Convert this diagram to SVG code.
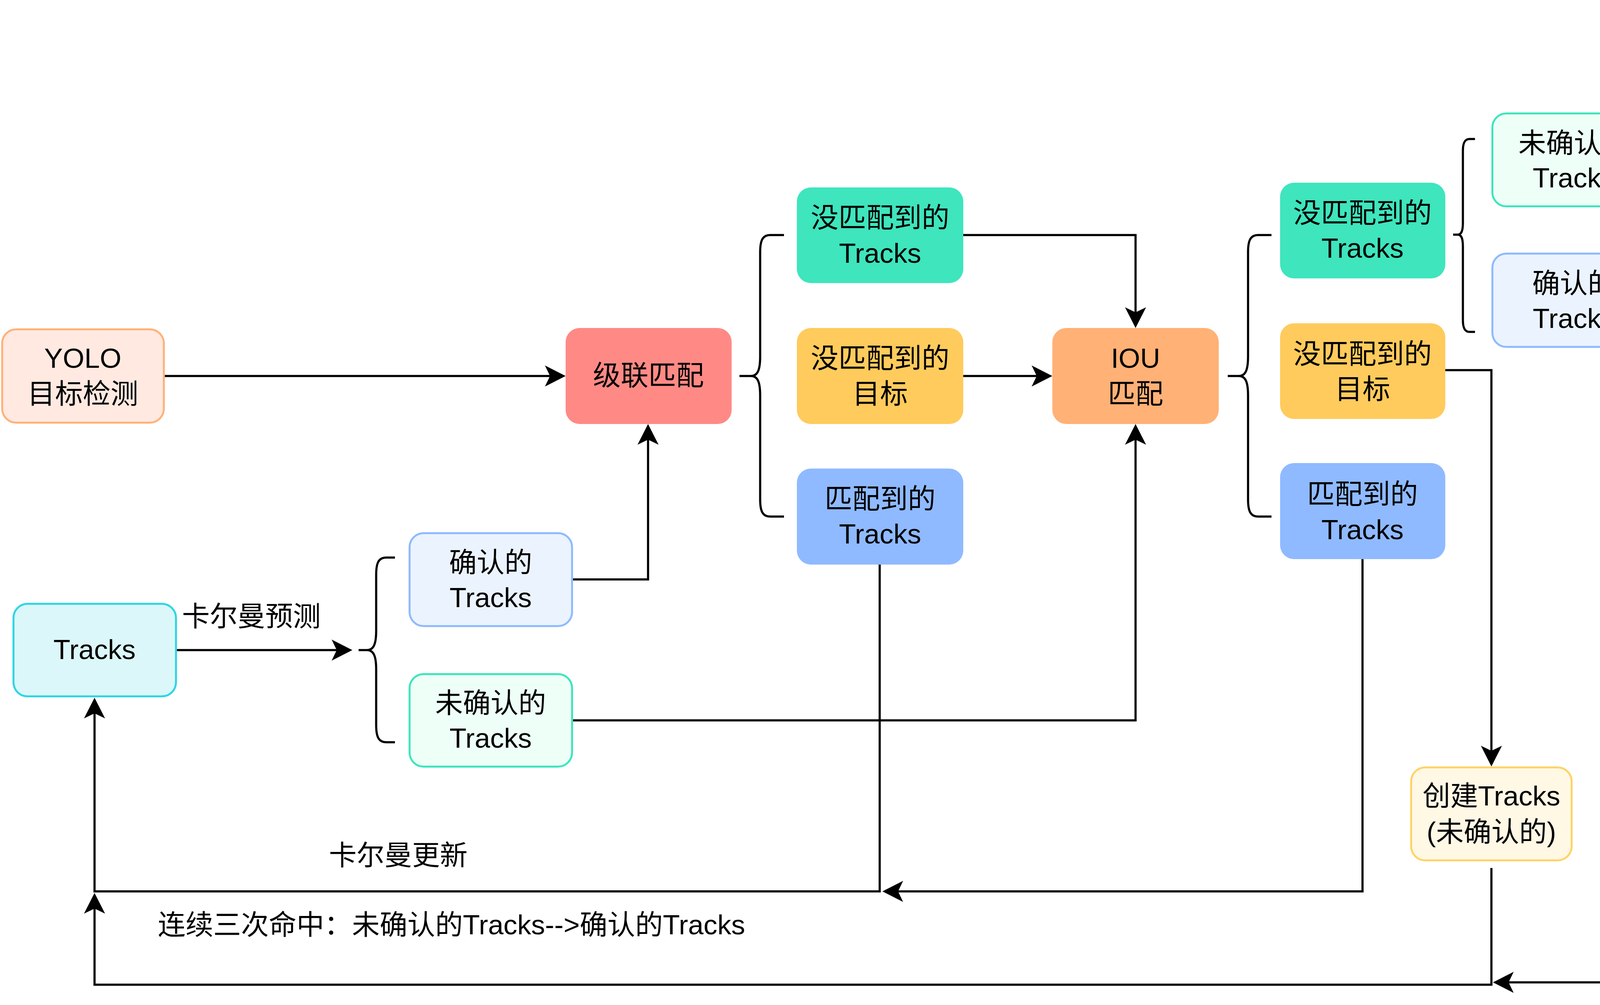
<svg xmlns="http://www.w3.org/2000/svg" width="4842" height="2574" viewBox="0 0 4842 2574">
<style>
text{font-family:"Liberation Sans","Noto Sans CJK SC",sans-serif;font-size:71px;fill:#000;dominant-baseline:central}
.c{text-anchor:middle}
.s{text-anchor:start}
.ln{fill:none;stroke:#000;stroke-width:5.5}
.arr{marker-end:url(#ah)}
.br{fill:none;stroke:#000;stroke-width:5.5;stroke-linejoin:round}
.wm{font-size:90px;fill:#dadada;stroke:#bfbfbf;stroke-width:1.5}
</style>
<defs>
<marker id="ah" markerUnits="userSpaceOnUse" viewBox="0 0 53 54" refX="13" refY="27" markerWidth="53" markerHeight="54" orient="auto">
<path d="M0,0 L53,27 L0,54 L13,27 Z" fill="#000"/>
</marker>
<linearGradient id="gdel" x1="0" y1="0" x2="0" y2="1">
<stop offset="0" stop-color="#dde6ed"/>
<stop offset="1" stop-color="#d3dce4"/>
</linearGradient>
</defs>
<rect width="4842" height="2574" fill="#fff"/>

<g id="connectors">
<path class="ln arr" d="M422,963 L1408,963"/>
<path class="ln arr" d="M1467,1484 L1659,1484 L1659,1126"/>
<path class="ln arr" d="M2466,602 L2907,602 L2907,800"/>
<path class="ln arr" d="M2466,963 L2654,963"/>
<path class="ln arr" d="M1467,1845 L2907,1845 L2907,1126"/>
<path class="ln arr" d="M453,1665 L862,1665"/>
<path class="ln" d="M4239,409 L4577,409"/>
<path class="ln arr" d="M4577,483 L4577,286"/>
<path class="ln arr" d="M3700,948 L3818,948 L3818,1923"/>
<path class="ln arr" d="M3488,1432 L3488,2283 L2299,2283"/>
<path class="ln arr" d="M2252,1446 L2252,2283 L242,2283 L242,1827"/>
<path class="ln arr" d="M3818,2223 L3818,2522 L242,2522 L242,2327"/>
<path class="ln arr" d="M4577,1064 L4577,2516 L3862,2516"/>
</g>

<g id="braces">
<path class="br" d="M2007,602 L1972,602 C1952,602 1946,616 1946,646 L1946,913 C1946,951 1938,963 1922,963 L1893,963 M1922,963 C1938,963 1946,975 1946,1013 L1946,1279 C1946,1309 1952,1323 1972,1323 L2007,1323"/>
<path class="br" d="M3255,602 L3221,602 C3201,602 3195,616 3195,646 L3195,913 C3195,951 3187,963 3171,963 L3143,963 M3171,963 C3187,963 3195,975 3195,1013 L3195,1279 C3195,1309 3201,1323 3221,1323 L3255,1323"/>
<path class="br" d="M1011,1428 L989,1428 C969,1428 963,1442 963,1472 L963,1615 C963,1653 955,1665 939,1665 L918,1665 M939,1665 C955,1665 963,1677 963,1715 L963,1857 C963,1887 969,1901 989,1901 L1011,1901"/>
<path class="br" d="M3776,356 L3762,356 C3750,356 3745,366 3745,386 L3745,571 C3745,594 3740,601 3732,601 L3720,601 M3732,601 C3740,601 3745,608 3745,631 L3745,820 C3745,840 3750,850 3762,850 L3776,850"/>
<path class="br" d="M4315,528 L4301,528 C4292,528 4287,538 4287,558 L4287,746 C4287,769 4282,776 4274,776 L4261,776 M4274,776 C4282,776 4287,783 4287,806 L4287,994 C4287,1014 4292,1024 4301,1024 L4315,1024"/>
</g>

<g id="yolo">
<rect x="5.5" y="843.5" width="414" height="239" rx="36" fill="#ffe9e1" stroke="#ffb27a" stroke-width="5"/>
<text class="c" x="212" y="917">YOLO</text>
<text class="c" x="212" y="1008">目标检测</text>
</g>
<g id="cascade">
<rect x="1448" y="840" width="425" height="246" rx="36" fill="#ff8a85"/>
<text class="c" x="1660" y="961">级联匹配</text>
</g>
<g id="unmatched_tracks_1">
<rect x="2040" y="480" width="426" height="245" rx="36" fill="#3ee5bd"/>
<text class="c" x="2253" y="557">没匹配到的</text>
<text class="c" x="2253" y="648">Tracks</text>
</g>
<g id="unmatched_det_1">
<rect x="2040" y="840" width="426" height="246" rx="36" fill="#fecb5c"/>
<text class="c" x="2253" y="917">没匹配到的</text>
<text class="c" x="2253" y="1008">目标</text>
</g>
<g id="matched_1">
<rect x="2040" y="1200" width="426" height="246" rx="36" fill="#8fbaff"/>
<text class="c" x="2253" y="1277">匹配到的</text>
<text class="c" x="2253" y="1367">Tracks</text>
</g>
<g id="iou">
<rect x="2694" y="840" width="426" height="246" rx="36" fill="#ffb176"/>
<text class="c" x="2907" y="917">IOU</text>
<text class="c" x="2907" y="1008">匹配</text>
</g>
<g id="unmatched_tracks_2">
<rect x="3277" y="468" width="423" height="245" rx="36" fill="#3ee5bd"/>
<text class="c" x="3488" y="545">没匹配到的</text>
<text class="c" x="3488" y="635">Tracks</text>
</g>
<g id="unmatched_det_2">
<rect x="3277" y="828" width="423" height="245" rx="36" fill="#fecb5c"/>
<text class="c" x="3488" y="906">没匹配到的</text>
<text class="c" x="3488" y="996">目标</text>
</g>
<g id="matched_2">
<rect x="3277" y="1186" width="423" height="246" rx="36" fill="#8fbaff"/>
<text class="c" x="3488" y="1265">匹配到的</text>
<text class="c" x="3488" y="1356">Tracks</text>
</g>
<g id="unconfirmed_right">
<rect x="3820.5" y="290.5" width="416" height="238" rx="36" fill="#edfff6" stroke="#3ee5bd" stroke-width="5"/>
<text class="c" x="4029" y="366">未确认的</text>
<text class="c" x="4029" y="455">Tracks</text>
</g>
<g id="confirmed_right">
<rect x="3820.5" y="649.5" width="416" height="239" rx="36" fill="#ebf3ff" stroke="#8fbaff" stroke-width="5"/>
<text class="c" x="4029" y="725">确认的</text>
<text class="c" x="4029" y="815">Tracks</text>
</g>
<g id="delete">
<rect x="4367" y="2" width="421" height="242" rx="38" fill="url(#gdel)" stroke="#cdd6de" stroke-width="4"/>
<text class="c" x="4577" y="121">删除</text>
</g>
<g id="tracks">
<rect x="34.5" y="1546.5" width="416" height="237" rx="36" fill="#dcf7f9" stroke="#2ed6e5" stroke-width="5"/>
<text class="c" x="242" y="1663">Tracks</text>
</g>
<g id="confirmed_left">
<rect x="1048.5" y="1365.5" width="416" height="238" rx="36" fill="#ebf3ff" stroke="#8fbaff" stroke-width="5"/>
<text class="c" x="1256" y="1440">确认的</text>
<text class="c" x="1256" y="1530">Tracks</text>
</g>
<g id="unconfirmed_left">
<rect x="1048.5" y="1726.5" width="416" height="237" rx="36" fill="#edfff6" stroke="#3ee5bd" stroke-width="5"/>
<text class="c" x="1256" y="1800">未确认的</text>
<text class="c" x="1256" y="1890">Tracks</text>
</g>
<g id="create_tracks">
<rect x="3612.5" y="1965.5" width="411" height="238" rx="36" fill="#fff8e5" stroke="#ffd466" stroke-width="5"/>
<text class="c" x="3818" y="2038">创建Tracks</text>
<text class="c" x="3818" y="2130">(未确认的)</text>
</g>

<g id="labels">
<text class="s" x="466" y="1578">卡尔曼预测</text>
<text class="s" x="842" y="2190">卡尔曼更新</text>
<text class="s" x="404" y="2368">连续三次命中：未确认的Tracks--&gt;确认的Tracks</text>
<text class="s" x="4339" y="569">&gt;最大丢失帧数</text>
<text class="s" x="4339" y="979">&lt;最大丢失帧数</text>
</g>
<g id="watermark">
<text class="s wm" x="4105" y="2495" textLength="730" lengthAdjust="spacingAndGlyphs">CSDN @小西几哦</text>
</g>
</svg>
